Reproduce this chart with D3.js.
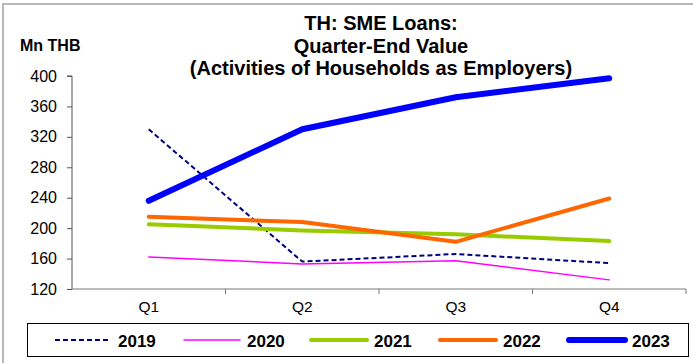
<!DOCTYPE html>
<html><head><meta charset="utf-8">
<script src="https://cdn.jsdelivr.net/npm/d3@7"></script>
<style>body{margin:0;background:#fff}svg{display:block;font-family:"Liberation Sans",Arial,sans-serif}</style>
</head><body><svg id="c" width="693" height="363"></svg>
<script>
const categories = ["Q1","Q2","Q3","Q4"];
const years = ["2019","2020","2021","2022","2023"];
const v2019 = [330, 156, 166, 154];
const v2020 = [162, 153, 157, 132];
const v2021 = [205, 197, 192, 183];
const v2022 = [215, 208, 182, 239];
const v2023 = [236, 330, 372, 397];
const yTicks = [120,160,200,240,280,320,360,400];
const titleLines = ["TH: SME Loans:","Quarter-End Value","(Activities of Households as Employers)"];
const yLabel = "Mn THB";

const seriesData = [v2019, v2020, v2021, v2022, v2023];
const styles = [
  {color:"#000080", width:2, dash:"5,3"},
  {color:"#ff00ff", width:1.5, dash:null},
  {color:"#99cc00", width:4, dash:null},
  {color:"#ff6600", width:4, dash:null},
  {color:"#0000ff", width:6, dash:null}
];

const svg = d3.select("#c");
svg.append("rect").attr("x",3).attr("y",4).attr("width",720).attr("height",420)
  .attr("fill","none").attr("stroke","#b8b8b8").attr("stroke-width",2);

const L=72, R=686, T=76, B=289;
const x = d3.scaleBand().domain(categories).range([L,R]);
const y = d3.scaleLinear().domain([120,400]).range([B,T]);

// y axis
const ya = svg.append("g").attr("transform",`translate(${L},0)`)
  .call(d3.axisLeft(y).tickValues(yTicks).tickSize(5).tickPadding(10).tickFormat(d3.format("d")));
ya.select(".domain").attr("stroke","#555").attr("d",`M-5,${T}H0V${B}`);
ya.selectAll(".tick line").attr("stroke","#555");
ya.selectAll("text").attr("font-size",16).attr("fill","#000").attr("font-family","Liberation Sans, Arial");

// x axis
const xa = svg.append("g").attr("transform",`translate(0,${B})`)
  .call(d3.axisBottom(x).tickSize(0).tickPadding(12));
xa.select(".domain").attr("stroke","#777").attr("d",`M${L},0H${R}`);
xa.selectAll("text").attr("font-size",15.5).attr("fill","#000").attr("font-family","Liberation Sans, Arial");
// boundary ticks
const bounds = categories.map(c=>x(c)).concat([R]).slice(1);
svg.append("g").selectAll("line").data(bounds).join("line")
  .attr("x1",d=>d).attr("x2",d=>d).attr("y1",B).attr("y2",B+5)
  .attr("stroke","#777");

// lines
const line = d3.line().x((d,i)=>x(categories[i])+x.bandwidth()/2).y(d=>y(d));
seriesData.forEach((s,k)=>{
  svg.append("path").datum(s).attr("d",line).attr("fill","none")
    .attr("stroke",styles[k].color).attr("stroke-width",styles[k].width)
    .attr("stroke-dasharray",styles[k].dash).attr("stroke-linecap",k===0?"butt":"round")
    .attr("stroke-linejoin","round");
});

// title
svg.append("g").selectAll("text").data(titleLines).join("text")
  .attr("x",381).attr("y",(d,i)=>30+i*22.5).attr("text-anchor","middle")
  .attr("font-size",20).attr("font-weight","bold").text(d=>d);
svg.append("text").attr("x",20).attr("y",51).attr("font-size",16).attr("font-weight","bold").text(yLabel);

// legend
svg.append("rect").attr("x",27.5).attr("y",323.5).attr("width",661).attr("height",33)
  .attr("fill","none").attr("stroke","#000").attr("stroke-width",1);
const legX = [55,184,311,440,569];
const lg = svg.append("g").selectAll("g").data(years).join("g")
  .attr("transform",(d,i)=>`translate(${legX[i]},340)`);
lg.append("line").attr("x1",0).attr("x2",56).attr("y1",0).attr("y2",0)
  .attr("stroke",(d,i)=>styles[i].color).attr("stroke-width",(d,i)=>styles[i].width)
  .attr("stroke-dasharray",(d,i)=>styles[i].dash).attr("stroke-linecap",(d,i)=>i===0?"butt":"round");
lg.append("text").attr("x",63).attr("y",6.5).attr("font-size",17).attr("font-weight","bold").text(d=>d);
</script></body></html>
